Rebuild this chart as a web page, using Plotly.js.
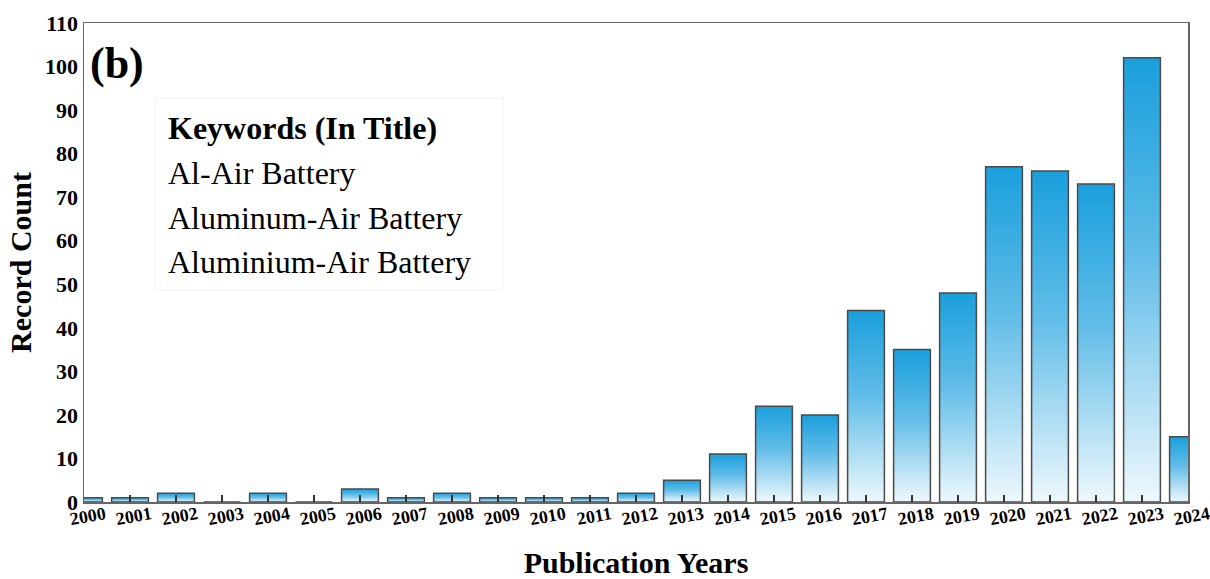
<!DOCTYPE html>
<html>
<head>
<meta charset="utf-8">
<script src="https://cdn.plot.ly/plotly-3.0.1.min.js"></script>
<style>html,body{margin:0;padding:0;background:#fff;}#chart{width:1210px;height:579px;}</style>
</head>
<body>
<div id="chart"></div>
<script>
const years = [2000,2001,2002,2003,2004,2005,2006,2007,2008,2009,2010,2011,2012,2013,2014,2015,2016,2017,2018,2019,2020,2021,2022,2023,2024];
const recordCount = [1,1,2,0,2,0,3,1,2,1,1,1,2,5,11,22,20,44,35,48,77,76,73,102,15];
const yTicks = [0,10,20,30,40,50,60,70,80,90,100,110];
const panelLabel = '(b)';
const keywordTitle = 'Keywords (In Title)';
const keywords = ['Al-Air Battery','Aluminum-Air Battery','Aluminium-Air Battery'];

const serif = 'Liberation Serif, Times New Roman, serif';

const trace = {
  type: 'bar',
  x: years,
  y: recordCount,
  width: 0.8,
  marker: {color: '#5cbbe8', line: {color: '#4a4a4a', width: 1.5}},
  hoverinfo: 'x+y'
};

const annotations = [
  {xref:'paper', yref:'paper', x:0.004, y:(502-63)/479, xanchor:'left', yanchor:'middle',
   text:'<b>'+panelLabel+'</b>', showarrow:false, font:{family:serif, size:44, color:'#000'}},
  {xref:'paper', yref:'paper', x:(166-84)/1104, y:(502-128)/479, xanchor:'left', yanchor:'middle',
   text:'<b>'+keywordTitle+'</b>', showarrow:false, font:{family:serif, size:32, color:'#000'}}
];
keywords.forEach((k, i) => {
  annotations.push({xref:'paper', yref:'paper', x:(166-84)/1104, y:(502-(173+i*44.5))/479,
    xanchor:'left', yanchor:'middle', text:k, showarrow:false,
    font:{family:serif, size:32, color:'#000'}});
});

const layout = {
  width: 1210, height: 579,
  margin: {l:84, r:22, t:23, b:77},
  paper_bgcolor: '#fff', plot_bgcolor: '#fff',
  showlegend: false,
  bargap: 0.2,
  xaxis: {
    range: [2000, 2024],
    tickmode: 'array', tickvals: years, ticktext: years.map(String),
    tickangle: -10,
    ticks: 'inside', ticklen: 7, tickwidth: 1.5, tickcolor: '#333',
    ticklabelshift: 21,
    ticklabelstandoff: -6,
    ticklabeloverflow: 'allow',
    showline: true, linecolor: '#666', linewidth: 1.5, mirror: true,
    showgrid: false, zeroline: false,
    tickfont: {family: serif, size: 18, color: '#000', weight: 'bold'},
    title: {text: '<b>Publication Years</b>', font: {family: serif, size: 30, color: '#000'}, standoff: 24}
  },
  yaxis: {
    range: [0, 110],
    tickmode: 'array', tickvals: yTicks,
    ticks: '',
    showline: true, linecolor: '#666', linewidth: 1.5, mirror: true,
    showgrid: false, zeroline: false,
    tickfont: {family: serif, size: 22, color: '#000', weight: 'bold'},
    title: {text: '<b>Record Count</b>', font: {family: serif, size: 30, color: '#000'}, standoff: 4}
  },
  shapes: [
    {type:'rect', xref:'paper', yref:'paper', x0:(155-84)/1104, x1:(503-84)/1104,
     y0:(502-290)/479, y1:(502-98)/479, line:{color:'#f2f2f2', width:1}, fillcolor:'rgba(0,0,0,0)', layer:'below'}
  ],
  annotations: annotations
};

const gd = document.getElementById('chart');
Plotly.newPlot(gd, [trace], layout, {displayModeBar:false, staticPlot:true}).then(() => {
  const ns = 'http://www.w3.org/2000/svg';
  const svg = gd.querySelector('.main-svg');
  let defs = svg.querySelector('defs');
  if (!defs) { defs = document.createElementNS(ns, 'defs'); svg.insertBefore(defs, svg.firstChild); }
  const grad = document.createElementNS(ns, 'linearGradient');
  grad.setAttribute('id', 'barGrad');
  grad.setAttribute('x1', '0'); grad.setAttribute('y1', '0');
  grad.setAttribute('x2', '0'); grad.setAttribute('y2', '1');
  [['0', '#1a9fdc'], ['0.45', '#62bde8'], ['1', '#eef8fc']].forEach(([o, c]) => {
    const s = document.createElementNS(ns, 'stop');
    s.setAttribute('offset', o); s.setAttribute('stop-color', c);
    grad.appendChild(s);
  });
  defs.appendChild(grad);
  gd.querySelectorAll('.barlayer .point path').forEach(p => { p.style.fill = 'url(#barGrad)'; });
});
</script>
</body>
</html>
